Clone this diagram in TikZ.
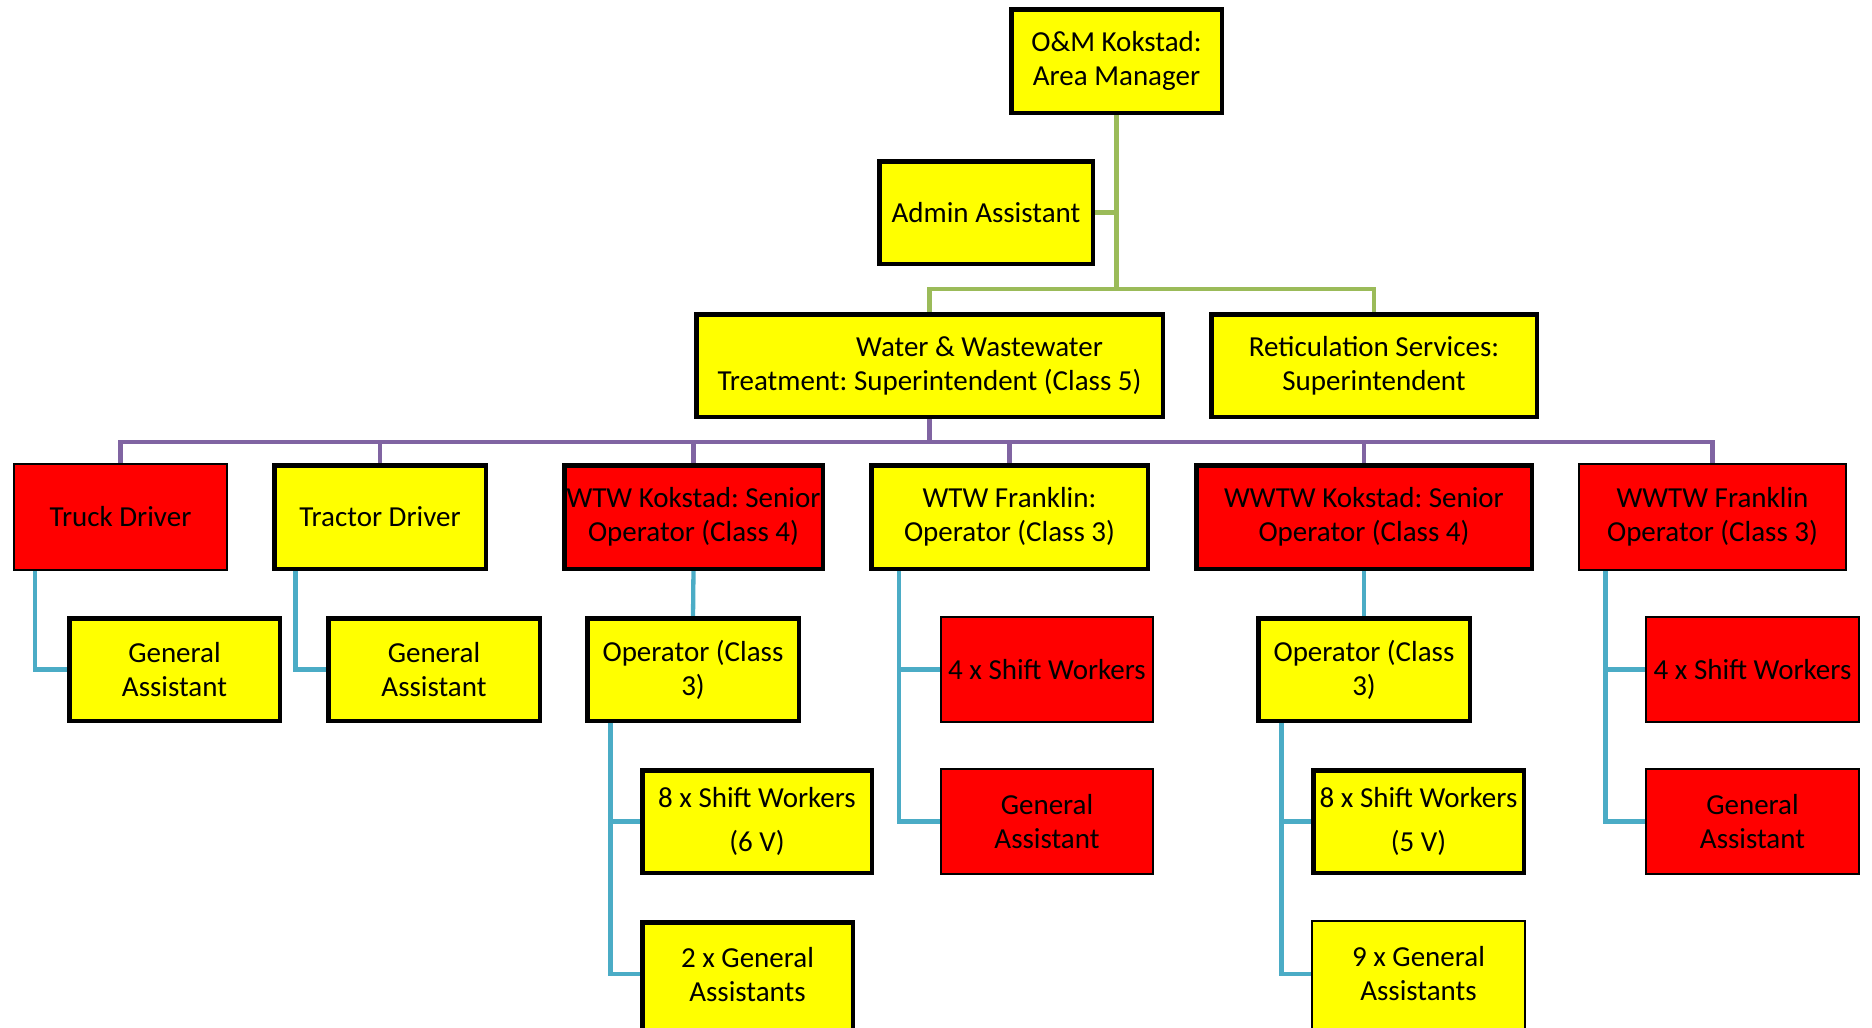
\documentclass[tikz,border=0pt]{standalone}
\usepackage{fontspec}
\setmainfont{Carlito}
\frenchspacing
\usetikzlibrary{calc,backgrounds}
\definecolor{yel}{HTML}{FFFF00}
\definecolor{rd}{HTML}{FF0000}
\definecolor{gconn}{HTML}{9BBB59}
\definecolor{pconn}{HTML}{8064A2}
\definecolor{bconn}{HTML}{4BACC6}
\tikzset{
  box/.style={draw=black, text=black, align=center, inner sep=0pt, outer sep=0pt,
    font=\fontsize{29}{34}\selectfont},
  yk/.style={box, fill=yel, line width=4.5pt},
  yt/.style={box, fill=yel, line width=1.6pt},
  rk/.style={box, fill=rd, line width=4.5pt},
  rt/.style={box, fill=rd, line width=1.6pt},
  gline/.style={draw=gconn, line width=4.3pt},
  pline/.style={draw=pconn, line width=4.3pt},
  bline/.style={draw=bconn, line width=4.3pt},
}
\begin{document}
\begin{tikzpicture}[x=1pt,y=-1pt]
\useasboundingbox (0,0) rectangle (1872,1028);
% level 0/1
\node[yk, minimum width=210.5pt, minimum height=103.5pt] (top) at (1116.5,61) {O\&M Kokstad:\\Area Manager};
\node[yk, minimum width=213.5pt, minimum height=102.5pt] (admin) at (986,212.5) {Admin Assistant};
\node[yk, minimum width=466.5pt, minimum height=102.5pt] (wwt) at (929.5,365.5) {\hspace*{100pt}Water \& Wastewater\\Treatment: Superintendent (Class 5)};
\node[yk, minimum width=325.5pt, minimum height=102.5pt] (retic) at (1374,365.5) {Reticulation Services:\\Superintendent};
% row 2
\node[rt, minimum width=213.4pt, minimum height=106.4pt] (truck) at (120.5,517) {Truck Driver};
\node[yk, minimum width=211.5pt, minimum height=103.5pt] (tractor) at (380,517) {Tractor Driver};
\node[rk, minimum width=258.5pt, minimum height=103.5pt] (wtwk) at (693.5,517) {WTW Kokstad: Senior\\Operator (Class 4)};
\node[yk, minimum width=276.5pt, minimum height=103.5pt] (wtwf) at (1009.5,517) {WTW Franklin:\\Operator (Class 3)};
\node[rk, minimum width=335.5pt, minimum height=103.5pt] (wwtwk) at (1364,517) {WWTW Kokstad: Senior\\Operator (Class 4)};
\node[rt, minimum width=267.4pt, minimum height=106.4pt] (wwtwf) at (1712.5,517) {WWTW Franklin\\Operator (Class 3)};
% row 3
\node[yk, minimum width=210.5pt, minimum height=102.5pt] (ga1) at (174.5,669.5) {General\\Assistant};
\node[yk, minimum width=211.5pt, minimum height=102.5pt] (ga2) at (434,669.5) {General\\Assistant};
\node[yk, minimum width=211.5pt, minimum height=102.5pt] (op1) at (693,669.5) {Operator (Class\\3)};
\node[rt, minimum width=212.4pt, minimum height=105.4pt] (sw1) at (1047,669.5) {4 x Shift Workers};
\node[yk, minimum width=211.5pt, minimum height=102.5pt] (op2) at (1364,669.5) {Operator (Class\\3)};
\node[rt, minimum width=213.4pt, minimum height=105.4pt] (sw2) at (1752.5,669.5) {4 x Shift Workers};
% row 4
\node[yk, minimum width=229.5pt, minimum height=102.5pt] (s8a) at (757,821.5) {8 x Shift Workers\\[10pt](6 V)};
\node[rt, minimum width=212.4pt, minimum height=105.4pt] (gar1) at (1047,821.5) {General\\Assistant};
\node[yk, minimum width=210.5pt, minimum height=102.5pt] (s8b) at (1418.5,821.5) {8 x Shift Workers\\[10pt](5 V)};
\node[rt, minimum width=213.4pt, minimum height=105.4pt] (gar2) at (1752.5,821.5) {General\\Assistant};
% row 5 (bottom edges run past the page)
\node[yk, anchor=north, minimum width=210.5pt, minimum height=114pt, text depth=9pt] (ga2x) at (747.5,922.25) {2 x General\\Assistants};
\node[yt, anchor=north, minimum width=213.4pt, minimum height=114pt, text depth=9pt] (ga9x) at (1418.5,920.8) {9 x General\\Assistants};
% buses
\coordinate (gb) at (1116.5,289);
\coordinate (pb) at (929.5,442);
\begin{pgfonlayer}{background}
% green
\draw[gline] (top.south) -- (gb);
\draw[gline] (wwt.north) |- (gb) -| (retic.north);
\draw[gline] (admin.east) -- (admin.east -| gb);
% purple
\draw[pline] (wwt.south) -- (pb);
\draw[pline] (truck.north) |- (pb) -| (wwtwf.north);
\draw[pline] (tractor.north) -- (tractor.north |- pb);
\draw[pline] (wtwk.north) -- (wtwk.north |- pb);
\draw[pline] (wtwf.north) -- (wtwf.north |- pb);
\draw[pline] (wwtwk.north) -- (wwtwk.north |- pb);
% blue
\draw[bline] ($(truck.south west)!0.1!(truck.south east)$) |- (ga1.west);
\draw[bline] ($(tractor.south west)!0.1!(tractor.south east)$) |- (ga2.west);
\draw[bline] (wtwk.south) -- (op1.north);
\draw[bline] ($(op1.south west)!0.11!(op1.south east)$) |- (s8a.west);
\draw[bline] ($(op1.south west)!0.11!(op1.south east)$) |- ($(ga2x.north west)+(0,52)$);
\draw[bline] ($(wtwf.south west)!0.1!(wtwf.south east)$) |- (sw1.west);
\draw[bline] ($(wtwf.south west)!0.1!(wtwf.south east)$) |- (gar1.west);
\draw[bline] (wwtwk.south) -- (op2.north);
\draw[bline] ($(op2.south west)!0.11!(op2.south east)$) |- (s8b.west);
\draw[bline] ($(op2.south west)!0.11!(op2.south east)$) |- ($(ga9x.north west)+(0,53)$);
\draw[bline] ($(wwtwf.south west)!0.1!(wwtwf.south east)$) |- (sw2.west);
\draw[bline] ($(wwtwf.south west)!0.1!(wwtwf.south east)$) |- (gar2.west);
\end{pgfonlayer}
\end{tikzpicture}
\end{document}
